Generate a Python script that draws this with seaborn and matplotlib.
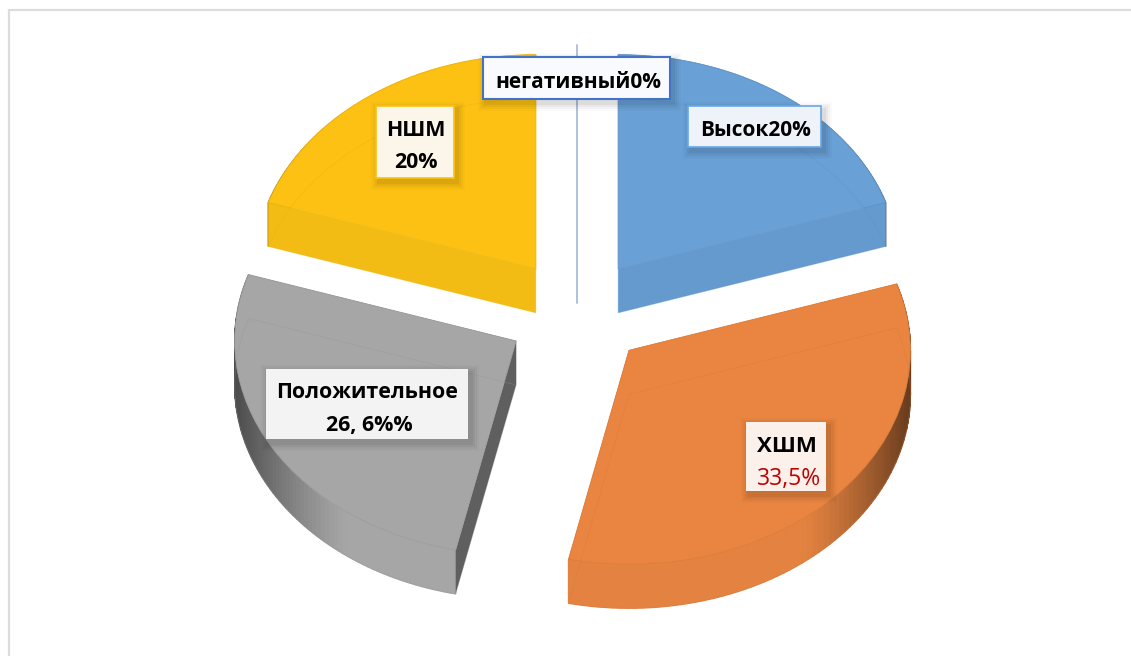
import numpy as np
import matplotlib
matplotlib.use("Agg")
import matplotlib.pyplot as plt
from matplotlib.patches import Rectangle
from matplotlib.colors import to_rgb
import seaborn as sns

# ---- data ----
categories = ["Высок", "ХШМ", "Положительное", "НШМ", "негативный"]
values = [20, 33.5, 26.6, 20, 0]
palette = ["#69A0D6", "#E98540", "#A6A6A6", "#FDC113", "#A9BBDC"]
cut_colors = ["#659ACF", "#E48341", "#5F5F5F", "#F3BC15", "#A9BBDC"]
drop_px = [0, 2.5, 2.5, 0, 0]

sns.set_theme(style="white")
plt.rcParams["font.family"] = ["Open Sans", "DejaVu Sans"]

W, H = 1131, 656
RX, RY = 281.5, 214.0       # pixels per data unit
CX, CY = 577.0, 312.0       # pie centre in pixels
DEPTH = 44.0 / RY
EXPLODE = 0.249

fig = plt.figure(figsize=(W / 100, H / 100), dpi=100, facecolor="white")
ax = fig.add_axes([0, 0, 1, 1])

wedges, _ = ax.pie(values, explode=[EXPLODE] * len(values), colors=palette,
                   startangle=90, counterclock=False, radius=1.0,
                   wedgeprops=dict(linewidth=0, zorder=5))


def px(x, y):
    return (x - CX) / RX, (CY - y) / RY


def mix(col, k, to=(0, 0, 0)):
    c = np.array(to_rgb(col))
    return tuple(c * (1 - k) + np.array(to) * k)


def lower(w, d):
    (x, y) = w.center
    w.set_center((x, y - d / RY))


# extruded sides, seen below each top face
for w, base, cut, d in zip(wedges, palette, cut_colors, drop_px):
    lower(w, d)
    (x0, y0), r = w.center, w.r
    a, b = w.theta1, w.theta2
    if b - a < 1e-6:
        # the 0 % slice is only a thin line
        w.set_visible(False)
        ax.plot([x0, x0], [y0 + r, y0 - DEPTH], color=base, lw=1.3, zorder=2)
        continue
    th = np.radians(np.linspace(a, b, 80))
    xs, ys = x0 + r * np.cos(th), y0 + r * np.sin(th)
    side = cut if base != "#A6A6A6" else base
    for i in range(len(th) - 1):
        k = np.clip((abs(np.cos(th[i])) - 0.6) / 0.4, 0, 1) ** 1.3 * 0.55
        col = mix(side, k)
        ax.fill([xs[i], xs[i + 1], xs[i + 1], xs[i]],
                [ys[i], ys[i + 1], ys[i + 1] - DEPTH, ys[i] - DEPTH],
                facecolor=col, edgecolor=col, lw=0.9, zorder=2)
    for t in (a, b):
        ex, ey = x0 + r * np.cos(np.radians(t)), y0 + r * np.sin(np.radians(t))
        ax.fill([x0, ex, ex, x0], [y0, ey, ey - DEPTH, y0 - DEPTH],
                color=cut, lw=0, zorder=3)
    w.set_edgecolor(mix(base, 0.05))
    w.set_linewidth(0.6)

# faint see-through outline of each slice's underside
under, _ = ax.pie(values[:4], explode=[EXPLODE] * 4, startangle=90, counterclock=False,
                  center=(0, -DEPTH), radius=1.0,
                  wedgeprops=dict(fill=False, linewidth=0.7, zorder=6))
for u, base, d in zip(under, palette, drop_px):
    lower(u, d)
    u.set_edgecolor(mix(base, 0.10) + (0.3,))
ax.set_aspect("auto")
ax.set_xlim(-CX / RX, (W - CX) / RX)
ax.set_ylim(-(H - CY) / RY, CY / RY)
ax.axis("off")


# ---- labels ----
def label_box(x0, y0, x1, y1, face, edge, lw=0.0):
    (ax0, ay1), (ax1, ay0) = px(x0, y0), px(x1, y1)
    for grow, alpha in zip((8, 6, 4, 2), (0.02, 0.03, 0.04, 0.05)):
        dx, dy = grow / RX, grow / RY
        ox, oy = 3 / RX, -4 / RY
        ax.add_patch(Rectangle((ax0 - dx + ox, ay0 - dy + oy), ax1 - ax0 + 2 * dx,
                               ay1 - ay0 + 2 * dy, fc="black", ec="none", alpha=alpha, zorder=8))
    ax.add_patch(Rectangle((ax0, ay0), ax1 - ax0, ay1 - ay0, fc=face, ec=edge, lw=lw, zorder=9))


def label_text(x, y, s, color="black", weight="bold", size=15.4):
    tx, ty = px(x, y)
    ax.text(tx, ty, s, ha="center", va="center", fontsize=size, color=color,
            fontweight=weight, zorder=10)


label_box(483, 57, 670, 99, "#F9FAFD", "#4472C4", 1.5)
label_text(578, 83, f"{categories[4]}{values[4]}%", size=15)
label_box(688, 106, 821, 147, "#EEF3F9", "#69A8E8", 1.2)
label_text(756, 130, f"{categories[0]}{values[0]}%", size=15)
label_box(376, 106, 454, 178, "#FBF6E9", "#FDC113", 1.2)
label_text(416, 130, categories[3])
label_text(416, 162, f"{values[3]}%")
label_box(266, 369, 468, 439, "#F3F3F3", "none")
label_text(367, 393, categories[2])
label_text(369, 425, "26, 6%%")
label_box(746, 422, 826, 491, "#FBF1EA", "none")
label_text(787, 447, categories[1], size=16)
label_text(789, 479, f"{values[1]}%".replace(".", ","), color="#C00000", weight="normal", size=16.5)

# ---- outer chart frame: only its top and left edges fall inside the picture ----
fx0, fy0 = px(9.5, 9.5)
fx1, fy1 = px(W, H)
ax.plot([fx0, fx0, fx1], [fy1, fy0, fy0], color="#DCDCDC", lw=1.6, zorder=1,
        solid_joinstyle="miter")

fig.savefig("out.png", dpi=100, facecolor="white")
